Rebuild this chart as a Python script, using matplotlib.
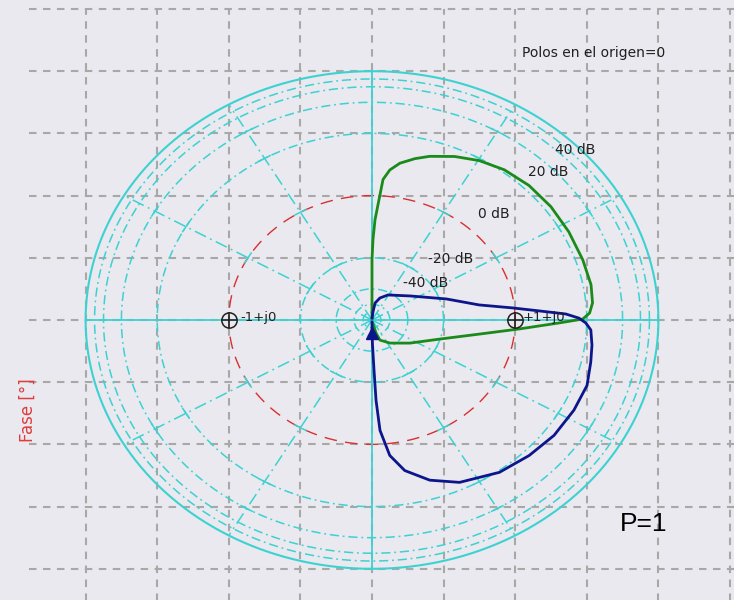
import numpy as np
import matplotlib
matplotlib.use("Agg")
import matplotlib.pyplot as plt

# Nyquist curve in log-polar form: phase [deg] and magnitude [dB]
green_phase = [90, 90, 90, 90, 89.4, 88.5, 87.1, 86.1, 84.1, 81.2, 77.0, 73.0, 66.3,
               59.7, 52.6, 44.6, 36.1, 27.3, 18.2, 10.5, 5.1, 2.1, 0.3, -1.05,
               -4.0, -8.6, -18, -35.1, -56, -71, -75, -78]
green_db = [-120, -52.8, -32.6, -21, -12.6, -6.2, -0.9, 4.1, 6.9, 9.3, 11.6, 13.6, 16.5,
            19.1, 21.2, 22.4, 22.8, 22.8, 23.0, 23.4, 22.8, 21.2, 18.4, 10.5,
            0.9, -8.0, -20.2, -32.6, -43.2, -51, -64, -98]

blue_phase = [88, 84, 81, 72.6, 61, 36.2, 18, 9.2, 5.7, 3.6, 2.05, 0.6, -0.9,
              -3.0, -7.5, -12.5, -19.3, -27.2, -36.1, -44.8, -54, -64.9, -72.6,
              -79.3, -83.5, -86.4, -87.5, -88, -89, -90, -90]
blue_db = [-120, -79, -57, -48.6, -42.4, -32.2, -17.4, -8.0, -0.5, 5.3, 12.6, 17,
           19.6, 21.8, 23, 24, 25.8, 25.4, 24.6, 22.8, 20.8, 16.8, 12.4, 7.6, 2.9,
           -3.4, -12.6, -26.2, -46.4, -65, -120]

# direction arrow on the blue branch
arrow_phase = -90
arrow_db = -65

circle_db = [-80, -60, -40, -20, 20, 40, 60, 80]
tick_db = [-20, 0, 20, 40]
label_txt = ["40 dB", "20 dB", "0 dB", "-20 dB", "-40 dB"]
label_pos = [(555, 150), (528, 172), (478, 214), (428, 259), (403, 283)]

spoke_deg = np.arange(0, 360, 30)

BG = "#e9e9ef"
CYAN = "#3cd2d2"
GRAY = "#a8a8a8"


def db_to_r(db):
    db = np.asarray(db, dtype=float)
    return np.where(db <= 0, 2 * 2 ** (db / 20), 4 - 2 * 2 ** (-db / 20))


def to_xy(phase, db):
    r = db_to_r(db)
    a = np.radians(phase)
    return r * np.cos(a), r * np.sin(a)


W, H = 734, 600
fig = plt.figure(figsize=(W / 100, H / 100), dpi=100, facecolor=BG)
ax = fig.add_axes([0, 0, 1, 1], facecolor=BG)
ax.set_axis_off()

cx, cy = 372, 320     # centre in pixels
ux, uy = 71.6, 62.2   # pixels per grid unit
ax.set_xlim(-cx / ux, (W - cx) / ux)
ax.set_ylim(-(H - cy) / uy, cy / uy)

# background grid
dash = (0, (3.6, 3.1))
for gx in range(-4, 6):
    ax.plot([gx, gx], [-4.6, 5.0], color=GRAY, lw=1.5, ls=dash, zorder=1)
for gy in range(-4, 6):
    ax.plot([-4.79, 5.2], [gy, gy], color=GRAY, lw=1.5, ls=dash, zorder=1)

t = np.linspace(0, 2 * np.pi, 600)

# magnitude circles
for d in circle_db:
    r = db_to_r(d)
    ax.plot(r * np.cos(t), r * np.sin(t), color=CYAN, lw=1.1,
            ls=(0, (6, 2.5, 1.2, 2.5)), zorder=2)
ax.plot(4 * np.cos(t), 4 * np.sin(t), color=CYAN, lw=1.5, zorder=2)
ax.plot(2 * np.cos(t), 2 * np.sin(t), color="#d83030", lw=1.0,
        ls=(0, (9, 6)), zorder=2)

# phase spokes with small cross ticks where they meet the circles
for s in spoke_deg:
    a = np.radians(s)
    if s % 90 == 0:
        ax.plot([0, 4 * np.cos(a)], [0, 4 * np.sin(a)], color=CYAN, lw=1.3, zorder=2)
        continue
    ax.plot([0, 4 * np.cos(a)], [0, 4 * np.sin(a)], color=CYAN, lw=1.1,
            ls=(0, (8, 3, 1.2, 3)), zorder=2)
    for d in tick_db:
        r = db_to_r(d)
        px, py = r * np.cos(a), r * np.sin(a)
        nx, ny = -np.sin(a) * 0.09, np.cos(a) * 0.09
        ax.plot([px - nx, px + nx], [py - ny, py + ny], color=CYAN, lw=1.1, zorder=2)

# curves
gx_, gy_ = to_xy(green_phase, green_db)
ax.plot(gx_, gy_, color="#1a8a1a", lw=2.0, zorder=4, solid_joinstyle="round")
bx_, by_ = to_xy(blue_phase, blue_db)
ax.plot(bx_, by_, color="#0c168a", lw=2.0, zorder=4, solid_joinstyle="round")
axx, ayy = to_xy([arrow_phase], [arrow_db])
ax.plot(axx, ayy, marker="^", ms=8, color="#0c168a", zorder=5)

# -1 and +1 points
for p in (180, 0):
    px, py = to_xy([p], [0])
    ax.plot(px, py, marker="o", ms=11, mfc="none", mec="#202020", mew=1.1, zorder=6)
    ax.plot(px, py, marker="+", ms=11, mec="#202020", mew=1.1, zorder=6)

fig.text(240 / W, 1 - 318 / H, "-1+j0", fontsize=9.5, color="#202020", va="center")
fig.text(523 / W, 1 - 318 / H, "+1+j0", fontsize=9.5, color="#202020", va="center")

for txt, (px, py) in zip(label_txt, label_pos):
    fig.text(px / W, 1 - py / H, txt, fontsize=10, color="#202020", va="center")

fig.text(522 / W, 1 - 53 / H, "Polos en el origen=0", fontsize=10,
         color="#202020", va="center")
fig.text(28 / W, 1 - 410 / H, "Fase [°]", fontsize=12, color="#e03c3c",
         rotation=90, ha="center", va="center")
fig.text(620 / W, 1 - 524 / H, "P=1", fontsize=19, color="black",
         family="Liberation Sans", va="center")

fig.savefig("out.png", dpi=100, facecolor=BG)
